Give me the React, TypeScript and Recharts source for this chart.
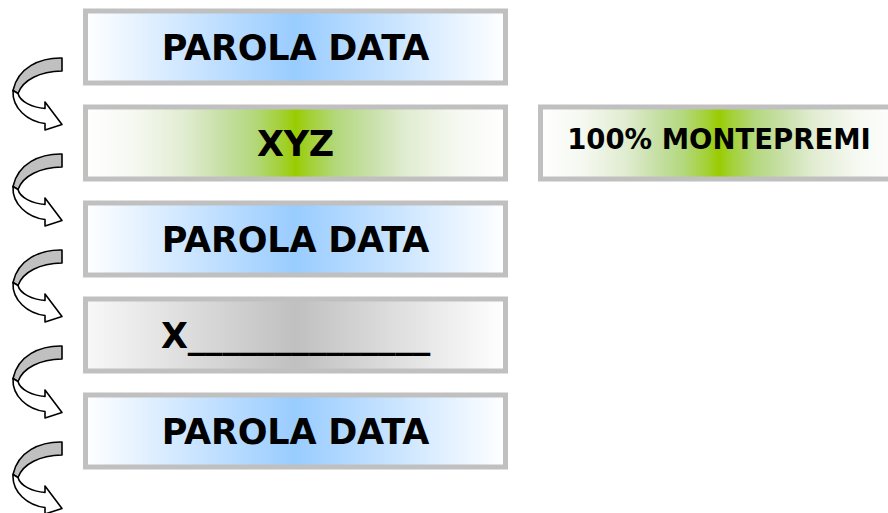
import { BarChart, Bar, XAxis, YAxis } from 'recharts'

// steps of the game, top to bottom
const steps = ['PAROLA DATA', 'XYZ', 'PAROLA DATA', 'X______________', 'PAROLA DATA']
const stepTypes = ['word', 'code', 'word', 'blank', 'word']
// horizontal span of each box on the 0..888 axis
const stepSpan = [83, 508]
const prizeSpan = [538, 900]
const prizeLabel = '100% MONTEPREMI'
const prizeRow = 1

const data = steps.map((step, i) => ({
  step,
  type: stepTypes[i],
  box: stepSpan,
  prize: i === prizeRow ? prizeSpan : null,
}))

const GREEN_STOPS: [number, string][] = [
  [0, '#ffffff'], [0.12, '#f5f8f0'], [0.24, '#e0ecd0'], [0.32, '#c8e0a8'],
  [0.4, '#b4d87e'], [0.47, '#a2d030'], [0.5, '#99cc00'], [0.53, '#a2d030'],
  [0.6, '#b4d87e'], [0.68, '#c8e0a8'], [0.76, '#e0ecd0'], [0.88, '#f5f8f0'], [1, '#ffffff'],
]
const gradients: Record<string, [number, string][]> = {
  word: [[0, '#ffffff'], [0.5, '#99ccff'], [1, '#ffffff']],
  code: GREEN_STOPS,
  blank: [[0, '#f8f8f8'], [0.5, '#c0c0c0'], [1, '#ffffff']],
  prize: GREEN_STOPS,
}

const FONT = "'DejaVu Sans', Verdana, sans-serif"

function Gradient({ id, type }: { id: string; type: string }) {
  return (
    <defs>
      <linearGradient id={id} x1="0" y1="0" x2="1" y2="0">
        {gradients[type].map(([o, c]) => (
          <stop key={o} offset={o} stopColor={c} />
        ))}
      </linearGradient>
    </defs>
  )
}

// curved ribbon arrow, drawn for the first row and shifted for the others
function CurvedArrow({ dy }: { dy: number }) {
  return (
    <g transform={`translate(0, ${dy})`} stroke="#000" strokeWidth={1.6} strokeLinejoin="round">
      <path
        d="M 62 57.5 C 40 57, 18 67, 13 90 L 18 93 C 23 79, 40 71, 62 70.5 Z"
        fill="#c0c0c0"
      />
      <path
        d="M 13 90 C 12 108, 28 121, 45 123 L 45 129.5 L 62 124 L 45 101.5 L 45 108 C 32 107, 20 101, 18 93 Z"
        fill="#ffffff"
      />
    </g>
  )
}

function StepBox(props: any) {
  const { x, y, width, height, payload, index } = props
  const id = `step-grad-${index}`
  const cx = x + width / 2
  const cy = y + height / 2
  return (
    <g>
      <Gradient id={id} type={payload.type} />
      <rect
        x={x + 2.5} y={y + 2.5} width={width - 5} height={height - 5}
        fill={`url(#${id})`} stroke="#c0c0c0" strokeWidth={5}
      />
      <text
        x={cx} y={cy + 13} textAnchor="middle" letterSpacing={-0.2}
        fontFamily={FONT} fontWeight="bold" fontSize={35} fill="#000"
      >
        {payload.step}
      </text>
      <CurvedArrow dy={y - 8} />
    </g>
  )
}

function PrizeBox(props: any) {
  const { x, y, width, height } = props
  if (!width) return null
  const cx = x + width / 2
  const cy = y + height / 2
  return (
    <g>
      <Gradient id="prize-grad" type="prize" />
      <rect
        x={x + 2.5} y={y + 2.5} width={width - 5} height={height - 5}
        fill="url(#prize-grad)" stroke="#c0c0c0" strokeWidth={5}
      />
      <text
        x={cx} y={cy + 6} textAnchor="middle"
        fontFamily={FONT} fontWeight="bold" fontSize={27.5} fill="#000"
      >
        {prizeLabel}
      </text>
    </g>
  )
}

export default function App() {
  return (
    <div style={{ position: 'absolute', left: 0, top: 0, width: 888, height: 513, background: '#fff' }}>
      <BarChart
        width={888}
        height={513}
        data={data}
        layout="vertical"
        margin={{ top: -1.5, right: 0, bottom: 34.5, left: 0 }}
        barSize={77}
        barGap={-77}
      >
        <XAxis type="number" domain={[0, 888]} allowDataOverflow hide />
        <YAxis type="category" hide />
        <Bar dataKey="box" shape={StepBox} isAnimationActive={false} />
        <Bar dataKey="prize" shape={PrizeBox} isAnimationActive={false} />
      </BarChart>
    </div>
  )
}
